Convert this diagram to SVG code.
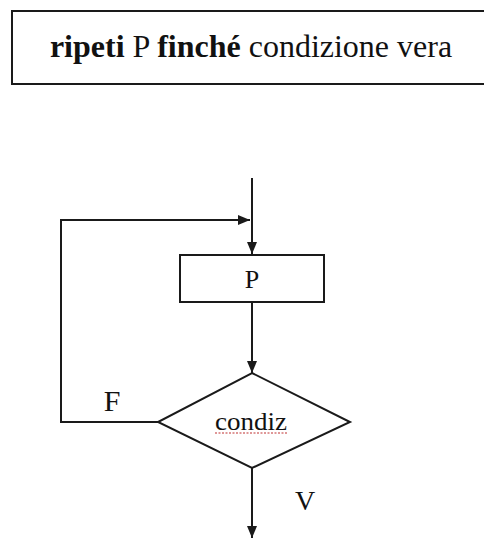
<svg xmlns="http://www.w3.org/2000/svg" width="484" height="540" viewBox="0 0 484 540">
<style>
.ln{fill:none;stroke:#1a1a1a;stroke-width:2}
.sh{fill:#fff;stroke:#1a1a1a;stroke-width:2}
.t{font-family:"Liberation Serif","Times New Roman",serif;fill:#111}
</style>
<defs>
<marker id="ah" viewBox="0 0 12 10" refX="12" refY="5" markerWidth="12" markerHeight="10" markerUnits="userSpaceOnUse" orient="auto">
<path d="M0,0 L12,5 L0,10 Z" fill="#1a1a1a"/>
</marker>
</defs>
<rect width="484" height="540" fill="#fff"/>
<g id="title">
<rect class="sh" x="12" y="11" width="480" height="73"/>
<text class="t" x="251" y="57" font-size="32" text-anchor="middle"><tspan font-weight="bold">ripeti</tspan> P <tspan font-weight="bold">finché</tspan> condizione vera</text>
</g>
<g id="connectors">
<line class="ln" x1="252" y1="178" x2="252" y2="254" marker-end="url(#ah)"/>
<line class="ln" x1="252" y1="302" x2="252" y2="373" marker-end="url(#ah)"/>
<polyline class="ln" points="158,422 61,422 61,220 250,220" marker-end="url(#ah)"/>
<line class="ln" x1="252" y1="468" x2="252" y2="538" marker-end="url(#ah)"/>
</g>
<g id="nodeP">
<rect class="sh" x="180" y="255" width="144" height="47"/>
<text class="t" x="252" y="288" font-size="26" text-anchor="middle">P</text>
</g>
<g id="nodeCond">
<polygon class="sh" points="252,373 350,422 252,468 158,422"/>
<text class="t" x="251" y="430" font-size="26" text-anchor="middle" textLength="72" lengthAdjust="spacingAndGlyphs">condiz</text>
<line x1="215" y1="433" x2="287" y2="433" stroke="#c03030" stroke-width="1.2" stroke-dasharray="2,1.5"/>
</g>
<g id="labels">
<text class="t" x="112" y="411" font-size="30" text-anchor="middle">F</text>
<text class="t" x="305" y="510" font-size="28" text-anchor="middle">V</text>
</g>
</svg>
